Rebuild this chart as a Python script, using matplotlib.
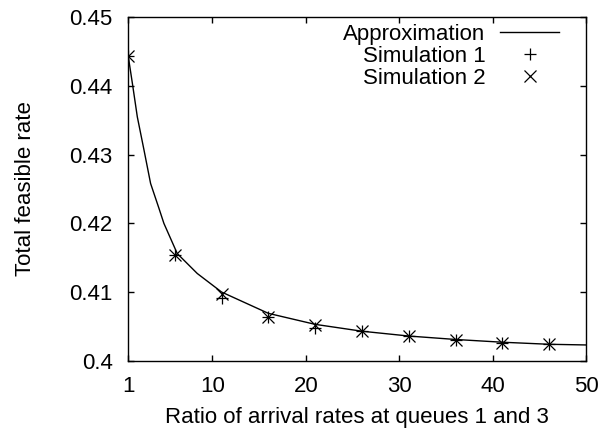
import matplotlib
matplotlib.use("Agg")
import matplotlib.pyplot as plt

# Approximation curve
approx_x = [1, 1.46, 1.99, 2.70, 3.41, 4.30, 4.83, 6.26, 8.40, 11.0,
            16.0, 21.0, 26.0, 31.0, 36.0, 41.0, 46.0, 50.0]
approx_y = [0.4445, 0.4404, 0.4355, 0.4307, 0.4258, 0.4222, 0.4200, 0.4156, 0.4127, 0.4100,
            0.4069, 0.4053, 0.4043, 0.4036, 0.4031, 0.4027, 0.4024, 0.4023]

# Simulation points
sim_x = [1, 6, 11, 16, 21, 26, 31, 36, 41, 46]
sim1_y = [0.4444, 0.4154, 0.4092, 0.4063, 0.4047, 0.4043, 0.4036, 0.4030, 0.4026, 0.4024]
sim2_y = [0.4444, 0.4154, 0.4097, 0.4063, 0.4052, 0.4043, 0.4036, 0.4030, 0.4026, 0.4024]

x_ticks = [1, 10, 20, 30, 40, 50]
y_ticks = [0.40, 0.41, 0.42, 0.43, 0.44, 0.45]
y_labels = ["0.4", "0.41", "0.42", "0.43", "0.44", "0.45"]

plt.rcParams['font.family'] = ['Liberation Sans', 'DejaVu Sans']
plt.rcParams['font.size'] = 16

fig = plt.figure(figsize=(6.04, 4.30), dpi=100)
ax = fig.add_axes([0.212, 0.161, 0.759, 0.799])

ax.plot(approx_x, approx_y, color='black', linewidth=1.0, label='Approximation')
ax.plot(sim_x, sim1_y, linestyle='none', marker='+', markersize=9, markeredgewidth=0.9,
        color='black', label='Simulation 1')
ax.plot(sim_x, sim2_y, linestyle='none', marker='x', markersize=8, markeredgewidth=0.9,
        color='black', label='Simulation 2')

ax.set_xlim(1, 50)
ax.set_ylim(0.40, 0.45)
ax.set_xticks(x_ticks)
ax.set_xticklabels([str(t) for t in x_ticks])
ax.set_yticks(y_ticks)
ax.set_yticklabels(y_labels)
ax.tick_params(direction='in', length=4, width=1, top=True, right=True)
ax.tick_params(axis='y', pad=11)
ax.tick_params(axis='x', pad=11)
for s in ax.spines.values():
    s.set_linewidth(1.0)

ax.set_xlabel('Ratio of arrival rates at queues 1 and 3', labelpad=7)
ax.set_ylabel('Total feasible rate', labelpad=24)

leg = ax.legend(loc='upper right', frameon=False, markerfirst=False,
                handlelength=2.65, handletextpad=0.65, labelspacing=0.05,
                borderaxespad=0.0, borderpad=0.0,
                bbox_to_anchor=(559 / 604, 1 - 24 / 430),
                bbox_transform=fig.transFigure)
for t in leg.get_texts():
    t.set_ha('right')
leg._legend_box.align = "right"

fig.savefig('out.png', dpi=100)
